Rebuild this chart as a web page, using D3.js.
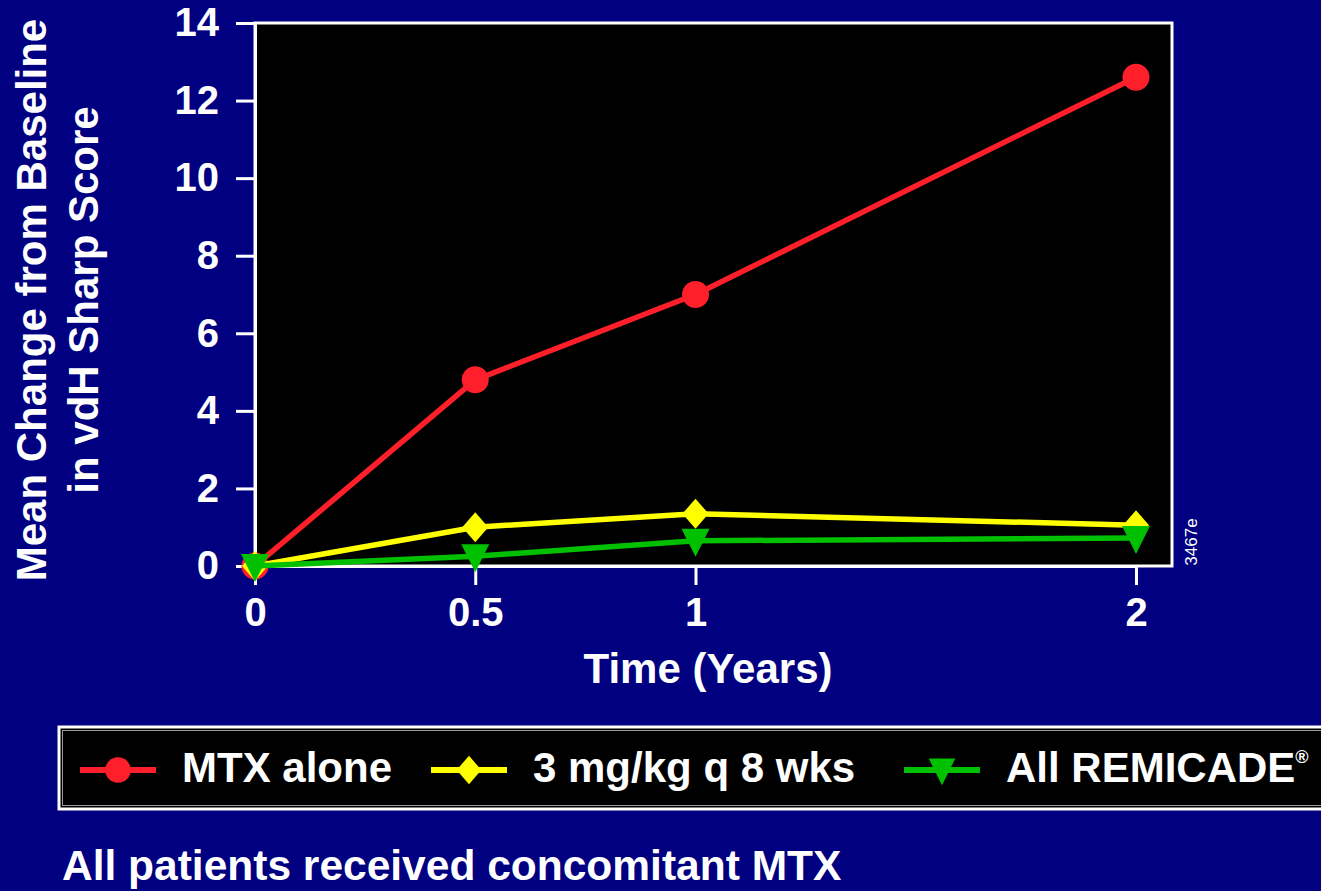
<!DOCTYPE html>
<html>
<head>
<meta charset="utf-8">
<script src="https://cdn.jsdelivr.net/npm/d3@7"></script>
<style>
  html, body { margin: 0; padding: 0; background: #000080; }
  svg { display: block; }
  text { font-family: "Liberation Sans", Arial, Helvetica, sans-serif; }
</style>
</head>
<body>
<svg id="chart" width="1321" height="891"></svg>
<script>
// Time points (years) and mean change in vdH Sharp score per arm
const years = [0, 0.5, 1, 2];
const mtxAlone = [0, 4.8, 7.0, 12.6];
const remicade3mg = [0, 1.0, 1.35, 1.05];
const allRemicade = [0, 0.25, 0.65, 0.72];

const seriesNames = ["MTX alone", "3 mg/kg q 8 wks", "All REMICADE"];
const seriesColors = ["#ff1f2a", "#ffff00", "#00c000"];
const seriesShapes = ["circle", "diamond", "triangle"];

const xTicks = [0, 0.5, 1, 2];
const xTickLabels = ["0", "0.5", "1", "2"];
const yTicks = [0, 2, 4, 6, 8, 10, 12, 14];

const svg = d3.select("#chart");
const W = 1321, H = 891;

svg.append("rect").attr("width", W).attr("height", H).attr("fill", "#000080");

// plot frame
const plot = { left: 255, right: 1172, top: 23, bottom: 566 };
const x = d3.scaleLinear().domain([0, 2]).range([255, 1136]);
const y = d3.scaleLinear().domain([0, 14]).range([plot.bottom, plot.top]);

svg.append("rect")
  .attr("x", plot.left).attr("y", plot.top)
  .attr("width", plot.right - plot.left).attr("height", plot.bottom - plot.top)
  .attr("fill", "#000000").attr("stroke", "#ffffff").attr("stroke-width", 3);

// axes
const yAxis = svg.append("g")
  .attr("transform", `translate(${plot.left},0)`)
  .call(d3.axisLeft(y).tickValues(yTicks).tickFormat(d3.format("d")).tickSize(19).tickPadding(17));
const xAxis = svg.append("g")
  .attr("transform", `translate(0,${plot.bottom})`)
  .call(d3.axisBottom(x).tickValues(xTicks).tickFormat((d, i) => xTickLabels[i]).tickSize(19).tickPadding(13));

[yAxis, xAxis].forEach(g => {
  g.select(".domain").attr("stroke", "#ffffff").attr("stroke-width", 3);
  g.selectAll(".tick line").attr("stroke", "#ffffff").attr("stroke-width", 3);
  g.selectAll(".tick text")
    .attr("fill", "#ffffff")
    .attr("font-size", 40)
    .attr("font-weight", "bold")
    .attr("font-family", "'Liberation Sans', Arial, sans-serif");
});

// axis titles
svg.append("text")
  .attr("x", 708).attr("y", 683)
  .attr("text-anchor", "middle")
  .attr("fill", "#ffffff").attr("font-size", 42).attr("font-weight", "bold")
  .text("Time (Years)");

const yTitle = svg.append("text")
  .attr("transform", "translate(46,300) rotate(-90)")
  .attr("text-anchor", "middle")
  .attr("fill", "#ffffff").attr("font-size", 42).attr("font-weight", "bold");
yTitle.append("tspan").attr("x", 0).attr("y", 0).text("Mean Change from Baseline");
yTitle.append("tspan").attr("x", 0).attr("y", 52).text("in vdH Sharp Score");

// small slide code beside the frame
svg.append("text")
  .attr("transform", "translate(1197,542) rotate(-90)")
  .attr("text-anchor", "middle")
  .attr("fill", "#ffffff").attr("font-size", 17)
  .text("3467e");

// marker shapes
function markerPath(shape, s) {
  if (shape === "diamond") {
    return `M0,${-15 * s}L${13 * s},0L0,${15 * s}L${-13 * s},0Z`;
  }
  if (shape === "triangle") {
    return `M${-14 * s},${-12 * s}L${14 * s},${-12 * s}L0,${16 * s}Z`;
  }
  return null;
}
function drawMarker(g, shape, color, cx, cy, s) {
  if (shape === "circle") {
    g.append("circle").attr("cx", cx).attr("cy", cy).attr("r", 13.5 * s).attr("fill", color);
  } else {
    g.append("path").attr("transform", `translate(${cx},${cy})`)
      .attr("d", markerPath(shape, s)).attr("fill", color);
  }
}

// series
const allSeries = [mtxAlone, remicade3mg, allRemicade];
const line = d3.line().x(d => x(d[0])).y(d => y(d[1]));

allSeries.forEach((vals, si) => {
  const pts = years.map((t, i) => [t, vals[i]]);
  const g = svg.append("g");
  g.append("path").datum(pts)
    .attr("d", line)
    .attr("fill", "none")
    .attr("stroke", seriesColors[si])
    .attr("stroke-width", 5.5)
    .attr("stroke-linejoin", "round");
  pts.forEach(p => drawMarker(g, seriesShapes[si], seriesColors[si], x(p[0]), y(p[1]), 1));
});

// legend
const lg = svg.append("g");
lg.append("rect").attr("x", 59).attr("y", 727).attr("width", 1300).attr("height", 82)
  .attr("fill", "#000000").attr("stroke", "#ffffff").attr("stroke-width", 3);
lg.append("rect").attr("x", 62.5).attr("y", 730.5).attr("width", 1300).attr("height", 75)
  .attr("fill", "none").attr("stroke", "#9a9a9a").attr("stroke-width", 1);

const legendCenters = [118, 469, 942];
const legendY = 770;
seriesNames.forEach((name, i) => {
  const cx = legendCenters[i];
  lg.append("line")
    .attr("x1", cx - 38).attr("x2", cx + 38)
    .attr("y1", legendY).attr("y2", legendY)
    .attr("stroke", seriesColors[i]).attr("stroke-width", 6);
  drawMarker(lg, seriesShapes[i], seriesColors[i], cx, legendY, 0.95);
  const t = lg.append("text")
    .attr("x", cx + 64).attr("y", 782)
    .attr("fill", "#ffffff").attr("font-size", 42).attr("font-weight", "bold")
    .text(name);
  if (i === 2) {
    t.append("tspan").attr("font-size", 18).attr("dy", -19).text("®");
  }
});

// footnote
svg.append("text")
  .attr("x", 62).attr("y", 880)
  .attr("fill", "#ffffff").attr("font-size", 42.5).attr("font-weight", "bold")
  .text("All patients received concomitant MTX");
</script>
</body>
</html>
